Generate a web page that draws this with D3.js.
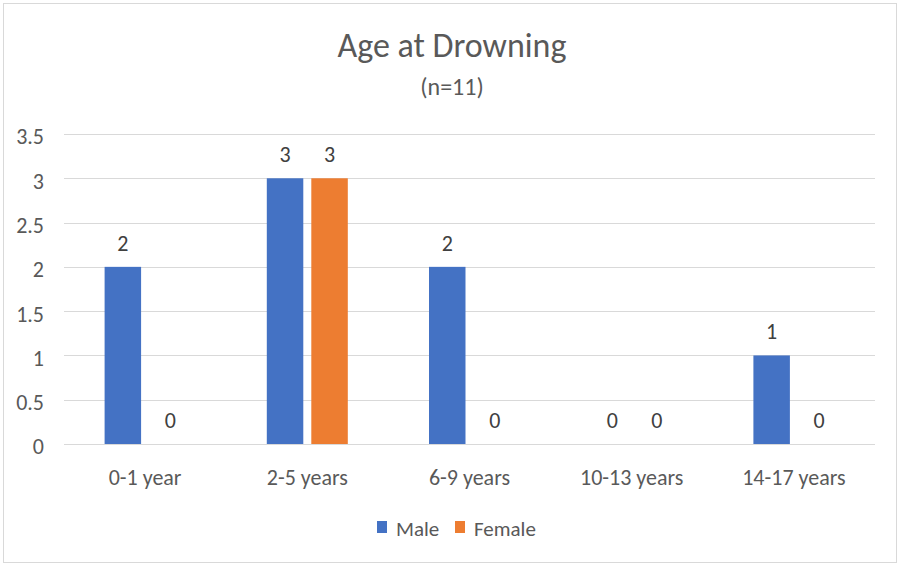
<!DOCTYPE html>
<html>
<head>
<meta charset="utf-8">
<script src="https://cdn.jsdelivr.net/npm/d3@7"></script>
<style>
  body { margin: 0; background: #fff; }
  svg text { font-family: Carlito, Lato, "Open Sans", sans-serif; fill: #595959; }
</style>
</head>
<body>
<div id="chart"></div>
<script>
var categories = ["0-1 year", "2-5 years", "6-9 years", "10-13 years", "14-17 years"];
var seriesNames = ["Male", "Female"];
var maleValues = [2, 3, 2, 0, 1];
var femaleValues = [0, 3, 0, 0, 0];
var yTicks = [0, 0.5, 1, 1.5, 2, 2.5, 3, 3.5];

var colors = ["#4472C4", "#ED7D31"];
var W = 900, H = 563;
var plot = { left: 64, right: 875, top: 134, bottom: 444 };

var data = categories.map(function(c, i) {
    return { cat: c, values: [maleValues[i], femaleValues[i]] };
});

var svg = d3.select("#chart").append("svg")
    .attr("width", W)
    .attr("height", H);

// chart border
svg.append("rect")
    .attr("x", 3.5).attr("y", 3.5)
    .attr("width", W - 7).attr("height", H - 4)
    .attr("fill", "#fff")
    .attr("stroke", "#d9d9d9")
    .attr("stroke-width", 1);

var x0 = d3.scaleBand()
    .domain(categories)
    .range([plot.left, plot.right]);

var groupW = 81;
var x1 = d3.scaleBand()
    .domain([0, 1])
    .range([(x0.bandwidth() - groupW) / 2, (x0.bandwidth() + groupW) / 2])
    .paddingInner(0.18);

var y = d3.scaleLinear()
    .domain([0, 3.5])
    .range([plot.bottom, plot.top]);

// gridlines
svg.append("g")
    .selectAll("line")
    .data(yTicks)
    .enter().append("line")
    .attr("x1", plot.left)
    .attr("x2", plot.right)
    .attr("y1", function(d) { return Math.round(y(d)) + 0.5; })
    .attr("y2", function(d) { return Math.round(y(d)) + 0.5; })
    .attr("stroke", "#d9d9d9")
    .attr("stroke-width", 1);

// y axis labels
var yAxis = d3.axisLeft(y).tickValues(yTicks).tickSize(0).tickPadding(0)
    .tickFormat(function(d) { return d; });
var yg = svg.append("g")
    .attr("transform", "translate(44,0)")
    .call(yAxis);
yg.select(".domain").remove();
yg.selectAll("text")
    .style("font-size", "22px")
    .attr("dy", "0.45em");

// x axis labels
var xAxis = d3.axisBottom(x0).tickSize(0).tickPadding(0);
var xg = svg.append("g")
    .attr("transform", "translate(0," + 485 + ")")
    .call(xAxis);
xg.select(".domain").remove();
xg.selectAll("text")
    .style("font-size", "22px")
    .attr("dy", 0)
    .attr("y", 0);

// bars
var groups = svg.append("g")
    .selectAll("g")
    .data(data)
    .enter().append("g")
    .attr("transform", function(d) { return "translate(" + x0(d.cat) + ",0)"; });

groups.selectAll("rect")
    .data(function(d) { return d.values.map(function(v, i) { return { s: i, v: v }; }); })
    .enter().append("rect")
    .attr("x", function(d) { return x1(d.s); })
    .attr("width", x1.bandwidth())
    .attr("y", function(d) { return y(d.v); })
    .attr("height", function(d) { return y(0) - y(d.v); })
    .attr("fill", function(d) { return colors[d.s]; });

// data labels
groups.selectAll("text")
    .data(function(d) { return d.values.map(function(v, i) { return { s: i, v: v }; }); })
    .enter().append("text")
    .attr("x", function(d) { return x1(d.s) + x1.bandwidth() / 2 + (d.v === 0 ? 3 : 0); })
    .attr("y", function(d) { return y(d.v) - 16; })
    .attr("text-anchor", "middle")
    .style("font-size", "22px")
    .style("fill", "#404040")
    .text(function(d) { return d.v; });

// title
svg.append("text")
    .attr("x", 452).attr("y", 57)
    .attr("text-anchor", "middle")
    .style("font-size", "34px")
    .text("Age at Drowning");
svg.append("text")
    .attr("x", 452).attr("y", 95)
    .attr("text-anchor", "middle")
    .style("font-size", "24px")
    .text("(n=11)");

// legend
var legendX = [377, 455];
var legend = svg.append("g")
    .selectAll("g")
    .data(seriesNames)
    .enter().append("g")
    .attr("transform", function(d, i) { return "translate(" + legendX[i] + ",521)"; });
legend.append("rect")
    .attr("width", 10).attr("height", 12)
    .attr("fill", function(d, i) { return colors[i]; });
legend.append("text")
    .attr("x", 19).attr("y", 15)
    .style("font-size", "21px")
    .text(function(d) { return d; });
</script>
</body>
</html>
